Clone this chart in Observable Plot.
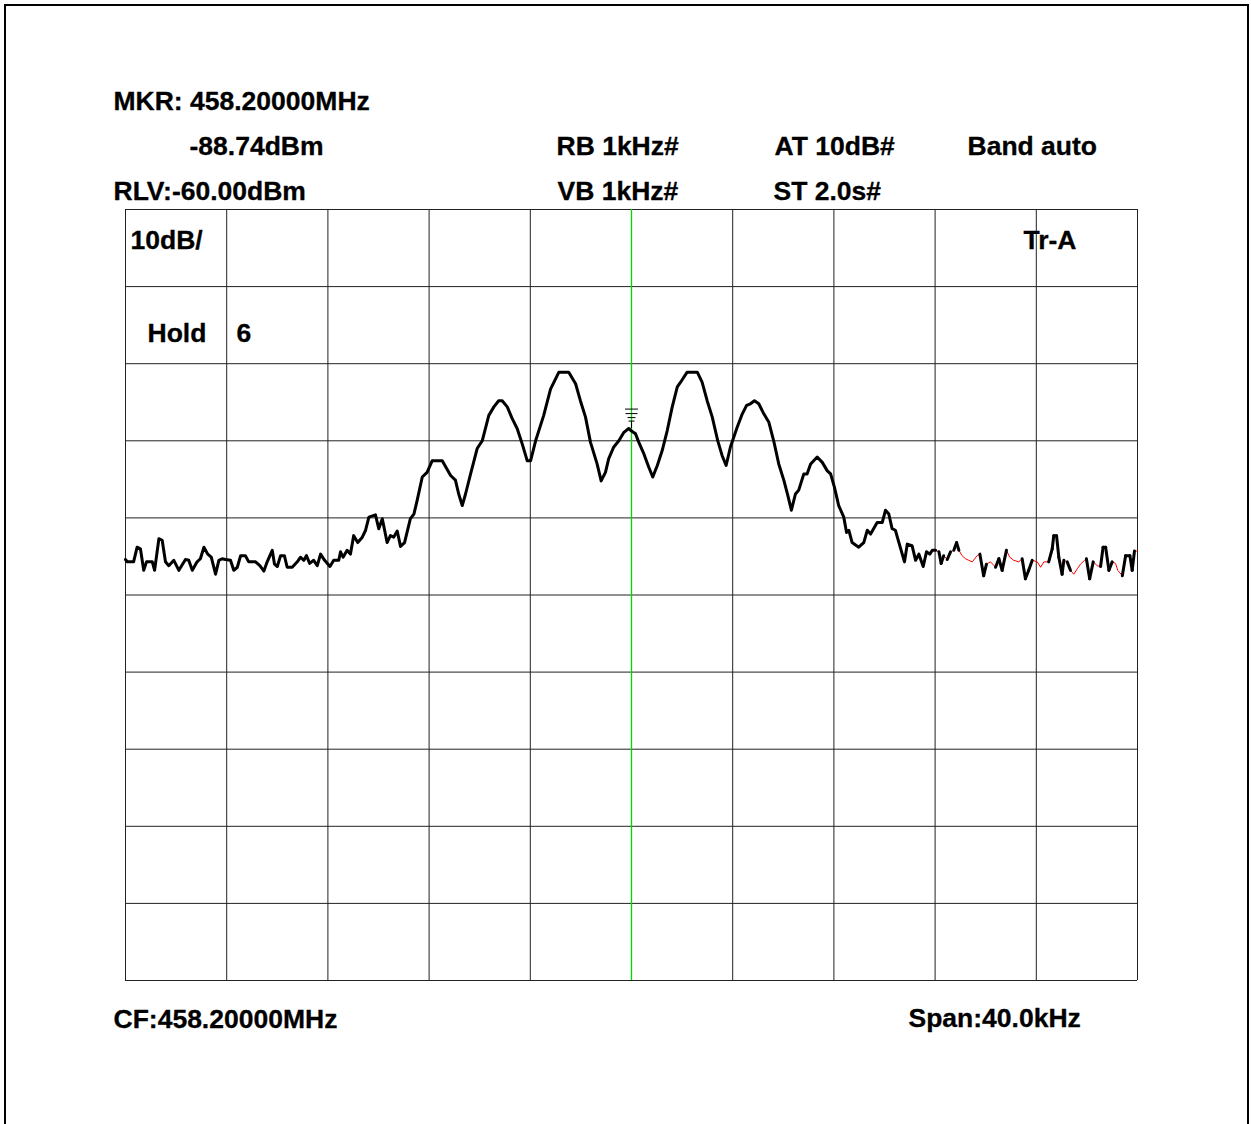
<!DOCTYPE html>
<html>
<head>
<meta charset="utf-8">
<script src="https://cdn.jsdelivr.net/npm/d3@7"></script>
<script src="https://cdn.jsdelivr.net/npm/@observablehq/plot@0.6"></script>
<style>
html, body { margin: 0; padding: 0; background: #fff; overflow: hidden; width: 1251px; height: 1124px; }
#chart { position: absolute; left: 0; top: 0; }
#border { position: absolute; left: 4px; top: 4px; width: 1241px; height: 1200px; border: 2px solid #000; border-bottom: none; }
</style>
</head>
<body>
<div id="border"></div>
<div id="chart"></div>
<script>
// ---- Data (frequency offset from centre, kHz; level, dBm) ----
const freqKHz = [
-20.00,-19.93,-19.68,-19.54,-19.41,-19.28,-19.17,-18.94,-18.85,-18.68,
-18.55,-18.42,-18.29,-18.09,-17.89,-17.63,-17.50,-17.36,-17.17,-17.04,
-16.90,-16.75,-16.61,-16.44,-16.31,-16.18,-16.05,-15.85,-15.72,-15.58,
-15.45,-15.26,-15.13,-14.86,-14.69,-14.53,-14.40,-14.20,-14.11,-14.00,
-13.87,-13.72,-13.61,-13.41,-13.21,-13.08,-12.95,-12.85,-12.72,-12.56,
-12.42,-12.29,-12.13,-11.92,-11.77,-11.57,-11.50,-11.40,-11.24,-11.11,
-10.98,-10.82,-10.64,-10.51,-10.38,-10.12,-9.99,-9.85,-9.66,-9.53,
-9.40,-9.26,-9.13,-8.97,-8.74,-8.60,-8.47,-8.27,-8.08,-7.88,
-7.48,-7.15,-6.96,-6.83,-6.69,-6.56,-6.36,-6.10,-5.90,-5.64,
-5.44,-5.25,-5.11,-4.91,-4.72,-4.52,-4.32,-4.12,-3.99,-3.79,
-3.47,-3.20,-2.87,-2.48,-2.21,-2.02,-1.82,-1.62,-1.36,-1.20,
-1.03,-0.90,-0.70,-0.50,-0.30,-0.11,0.00,0.16,0.29,0.49,
0.68,0.84,1.02,1.21,1.41,1.61,1.81,1.94,2.20,2.60,
2.79,2.99,3.19,3.41,3.58,3.74,3.91,4.18,4.38,4.55,
4.70,4.86,5.03,5.23,5.43,5.62,5.82,6.02,6.18,6.32,
6.48,6.61,6.81,6.94,7.08,7.34,7.54,7.74,7.87,8.02,
8.19,8.39,8.50,8.59,8.72,8.98,9.18,9.32,9.45,9.71,
9.91,10.04,10.17,10.30,10.43,10.57,10.79,10.90,11.09,11.23,
11.36,11.53,11.66,11.79,11.89,12.02,12.15,12.24,12.34,12.48,
12.61,12.74,12.85,12.94,13.07,13.20,13.33,13.47,13.66,13.77,
13.92,14.03,14.19,14.39,14.52,14.65,14.82,14.95,15.11,15.31,
15.44,15.57,15.70,15.84,16.04,16.17,16.30,16.49,16.63,16.69,
16.80,16.89,17.02,17.09,17.22,17.35,17.48,17.62,17.75,17.91,
17.98,18.11,18.25,18.41,18.54,18.64,18.74,18.87,19.00,19.13,
19.22,19.40,19.53,19.70,19.79,19.88,19.99
];
const levelDbm = [
-105.4,-105.7,-105.7,-103.8,-104.0,-106.8,-105.7,-105.7,-106.8,-102.7,
-102.9,-105.7,-106.2,-105.5,-106.8,-105.4,-105.5,-106.8,-105.7,-105.3,
-103.8,-104.7,-105.1,-107.3,-105.5,-105.3,-105.4,-105.5,-106.8,-106.4,
-104.9,-104.9,-105.7,-105.7,-106.2,-106.9,-105.7,-104.2,-106.0,-106.3,
-104.9,-104.9,-106.4,-106.4,-105.7,-105.1,-105.5,-104.9,-105.9,-105.5,
-106.2,-104.7,-105.5,-106.3,-105.5,-105.5,-104.4,-105.1,-104.2,-104.7,
-102.3,-103.2,-102.5,-101.6,-99.9,-99.6,-101.4,-100.1,-103.2,-102.3,
-102.5,-101.7,-103.7,-103.2,-100.1,-99.5,-97.7,-94.7,-94.1,-92.6,
-92.6,-94.5,-95.1,-96.9,-98.4,-96.9,-94.3,-91.0,-90.0,-86.7,
-85.6,-84.8,-84.8,-85.6,-87.1,-88.4,-90.4,-92.6,-92.6,-90.0,
-86.7,-83.3,-81.1,-81.1,-82.6,-84.8,-86.9,-90.2,-93.0,-95.2,
-94.1,-92.3,-90.8,-90.0,-88.9,-88.4,-88.74,-89.1,-90.2,-91.7,
-93.4,-94.7,-93.2,-91.3,-88.7,-85.6,-83.0,-82.4,-81.1,-81.1,
-82.4,-84.8,-86.9,-90.0,-91.9,-93.2,-90.8,-88.2,-86.5,-85.4,
-85.2,-84.8,-85.2,-86.5,-87.6,-90.0,-93.0,-95.1,-97.1,-99.0,
-96.9,-96.4,-94.3,-94.3,-93.0,-92.1,-92.8,-93.9,-94.3,-96.0,
-98.4,-99.9,-101.9,-101.6,-103.2,-103.8,-103.2,-101.6,-102.1,-100.6,
-100.6,-99.0,-99.5,-101.4,-101.6,-103.2,-105.7,-103.4,-103.6,-105.5,
-104.7,-106.3,-104.4,-104.7,-104.2,-104.2,-104.4,-105.9,-104.9,-105.4,
-104.4,-104.2,-103.2,-104.2,-104.9,-105.3,-105.5,-105.7,-104.9,-104.7,
-107.5,-106.0,-105.7,-106.4,-105.3,-106.8,-104.2,-105.1,-105.5,-105.7,
-105.3,-107.9,-106.8,-105.5,-105.7,-106.4,-105.7,-105.7,-104.0,-102.3,
-102.3,-105.1,-107.3,-105.5,-105.7,-106.8,-107.3,-106.6,-106.0,-105.5,
-105.3,-107.9,-105.7,-106.2,-106.3,-103.8,-103.8,-106.8,-105.7,-105.9,
-106.8,-107.5,-104.9,-104.9,-106.8,-104.3,-104.3
];
const xGridKHz = [-20, -16, -12, -8, -4, 0, 4, 8, 12, 16, 20];
const yGridDbm = [-160, -150, -140, -130, -120, -110, -100, -90, -80, -70, -60];
const markerKHz = [0];
const markerDbm = [-88.74];
const redFromKHz = 12.0;

const headerTexts = ["MKR: 458.20000MHz", "-88.74dBm", "RB 1kHz#", "AT 10dB#", "Band auto", "RLV:-60.00dBm", "VB 1kHz#", "ST 2.0s#"];
const screenTexts = ["10dB/", "Tr-A", "Hold", "6"];
const footerTexts = ["CF:458.20000MHz", "Span:40.0kHz"];

// ---- Build ----
const pts = freqKHz.map((f, i) => ({ f, v: levelDbm[i] }));
const mainPts = pts.filter(p => p.f <= redFromKHz + 0.05);
const tailPts = pts.filter(p => p.f >= redFromKHz - 0.2);
const steepSegs = [];
for (let i = 0; i < pts.length - 1; i++) {
  const a = pts[i], b = pts[i + 1];
  if (a.f < redFromKHz) continue;
  const d = Math.abs(b.v - a.v);
  const prev = i > 0 ? Math.abs(a.v - pts[i - 1].v) : 0;
  const next = i + 2 < pts.length ? Math.abs(pts[i + 2].v - b.v) : 0;
  if (d >= 0.9 || (prev >= 1.5 && next >= 1.5)) steepSegs.push({ x1: a.f, y1: a.v, x2: b.f, y2: b.v });
}

const markerSymbol = {
  draw(ctx) {
    ctx.moveTo(-6.5, -22); ctx.lineTo(6.5, -22);
    ctx.moveTo(-6, -17.5); ctx.lineTo(6, -17.5);
    ctx.moveTo(-4, -13.5); ctx.lineTo(4, -13.5);
    ctx.moveTo(-3, -10); ctx.lineTo(3, -10);
    ctx.moveTo(0, -10); ctx.lineTo(0, -3);
  }
};

const FONT = "'Liberation Sans', Arial, Helvetica, sans-serif";
const L = 125, T = 209;
function label(str, x, y) {
  return Plot.text([str], {
    frameAnchor: "top-left", text: d => d, dx: x - L, dy: y - T,
    textAnchor: "start", lineAnchor: "bottom",
    fontSize: 26.5, fontWeight: 700, fontFamily: FONT, fill: "#000",
    stroke: "#000", strokeWidth: 0.3
  });
}

const chart = Plot.plot({
  width: 1251,
  height: 1124,
  marginLeft: 125,
  marginRight: 114,
  marginTop: 209,
  marginBottom: 144,
  x: { domain: [-20, 20], axis: null },
  y: { domain: [-160, -60], axis: null },
  style: { background: "transparent", overflow: "visible" },
  marks: [
    Plot.ruleX(xGridKHz.filter(k => !markerKHz.includes(k)), { stroke: "#222", strokeWidth: 1 }),
    Plot.ruleY(yGridDbm, { stroke: "#222", strokeWidth: 1 }),
    Plot.ruleX(markerKHz, { stroke: "#00d800", strokeWidth: 1.3 }),
    Plot.line(tailPts, { x: "f", y: "v", stroke: "#ff0000", strokeWidth: 1 }),
    Plot.line(mainPts, { x: "f", y: "v", stroke: "#000", strokeWidth: 3, strokeLinejoin: "round", strokeLinecap: "round" }),
    Plot.link(steepSegs, { x1: "x1", y1: "y1", x2: "x2", y2: "y2", stroke: "#000", strokeWidth: 3, strokeLinecap: "round" }),
    Plot.dot(markerKHz.map((k, i) => ({ k, v: markerDbm[i] })), { x: "k", y: "v", symbol: markerSymbol, stroke: "#000", fill: "none", strokeWidth: 1 }),
    label(headerTexts[0], 113, 109),
    label(headerTexts[1], 189, 154),
    label(headerTexts[2], 556, 154),
    label(headerTexts[3], 774, 154),
    label(headerTexts[4], 967, 154),
    label(headerTexts[5], 113, 199),
    label(headerTexts[6], 557, 199),
    label(headerTexts[7], 773, 199),
    label(screenTexts[0], 130, 248),
    label(screenTexts[1], 1023, 248),
    label(screenTexts[2], 147, 341),
    label(screenTexts[3], 236, 341),
    label(footerTexts[0], 113, 1027),
    label(footerTexts[1], 908, 1026)
  ]
});
document.getElementById("chart").appendChild(chart);
</script>
</body>
</html>
